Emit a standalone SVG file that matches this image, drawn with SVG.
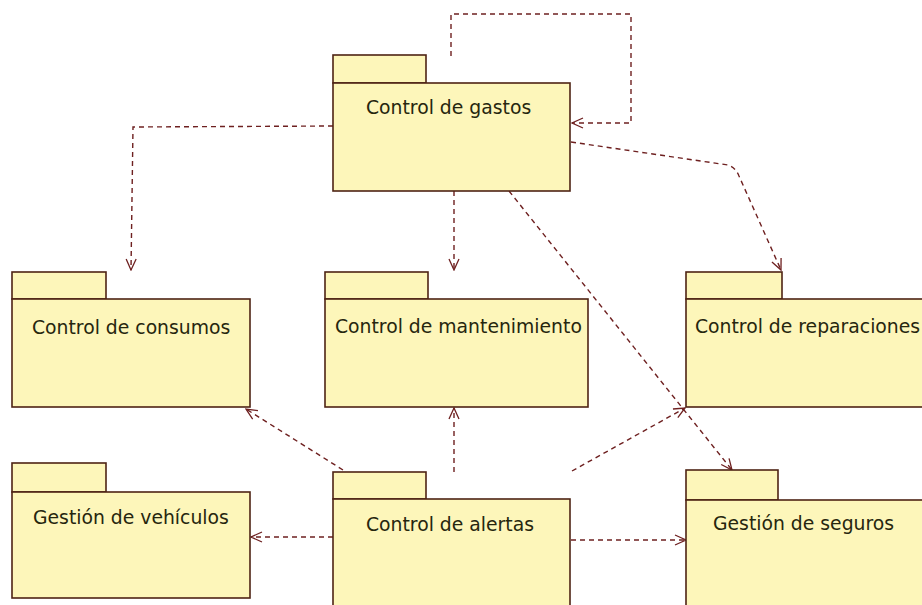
<svg xmlns="http://www.w3.org/2000/svg" width="922" height="605" viewBox="0 0 922 605">
<style>
.pk{fill:#fdf6ba;stroke:#4e2414;stroke-width:1.6}
.lb{font-family:"DejaVu Sans",Verdana,sans-serif;font-size:18.8px;fill:#26260e}
.cn{fill:none;stroke:#6e2020;stroke-width:1.4;stroke-dasharray:5 4}
</style>
<defs>
<marker id="ah" markerUnits="userSpaceOnUse" markerWidth="14" markerHeight="14" viewBox="0 0 14 14" refX="13" refY="7" orient="auto">
<path d="M2,2 L13,7 L2,12" fill="none" stroke="#6e2020" stroke-width="1.3"/>
</marker>
</defs>
<rect width="922" height="605" fill="#ffffff"/>
<g id="connectors">
<polyline class="cn" points="451,56 451,14 631,14 631,123 572,123" marker-end="url(#ah)"/>
<polyline class="cn" points="333,126 133,127 131,270" marker-end="url(#ah)"/>
<line class="cn" x1="454" y1="191" x2="454" y2="270" marker-end="url(#ah)"/>
<path class="cn" d="M571,142 L728,165 Q736,168 739,176 L781,270" marker-end="url(#ah)"/>
<line class="cn" x1="509" y1="191" x2="732" y2="470" marker-end="url(#ah)"/>
<line class="cn" x1="572" y1="471" x2="685" y2="408" marker-end="url(#ah)"/>
<line class="cn" x1="454" y1="472" x2="454" y2="408" marker-end="url(#ah)"/>
<line class="cn" x1="343" y1="470" x2="246" y2="409" marker-end="url(#ah)"/>
<line class="cn" x1="333" y1="537" x2="251" y2="537" marker-end="url(#ah)"/>
<line class="cn" x1="571" y1="540" x2="686" y2="540" marker-end="url(#ah)"/>
</g>
<g id="gastos">
<rect class="pk" x="333" y="55" width="93" height="28"/>
<rect class="pk" x="333" y="83" width="237" height="108"/>
<text class="lb" x="366" y="114">Control de gastos</text>
</g>
<g id="consumos">
<rect class="pk" x="12" y="272" width="94" height="27"/>
<rect class="pk" x="12" y="299" width="238" height="108"/>
<text class="lb" x="32" y="334">Control de consumos</text>
</g>
<g id="mantenimiento">
<rect class="pk" x="325" y="272" width="103" height="27"/>
<rect class="pk" x="325" y="299" width="263" height="108"/>
<text class="lb" x="335" y="333">Control de mantenimiento</text>
</g>
<g id="reparaciones">
<rect class="pk" x="686" y="272" width="96" height="27"/>
<rect class="pk" x="686" y="299" width="250" height="108"/>
<text class="lb" x="695" y="333">Control de reparaciones</text>
</g>
<g id="vehiculos">
<rect class="pk" x="12" y="463" width="94" height="29"/>
<rect class="pk" x="12" y="492" width="238" height="106"/>
<text class="lb" x="33" y="524">Gestión de vehículos</text>
</g>
<g id="alertas">
<rect class="pk" x="333" y="472" width="93" height="27"/>
<rect class="pk" x="333" y="499" width="237" height="115"/>
<text class="lb" x="366" y="531">Control de alertas</text>
</g>
<g id="seguros">
<rect class="pk" x="686" y="470" width="92" height="30"/>
<rect class="pk" x="686" y="500" width="250" height="115"/>
<text class="lb" x="713" y="530">Gestión de seguros</text>
</g>
</svg>
